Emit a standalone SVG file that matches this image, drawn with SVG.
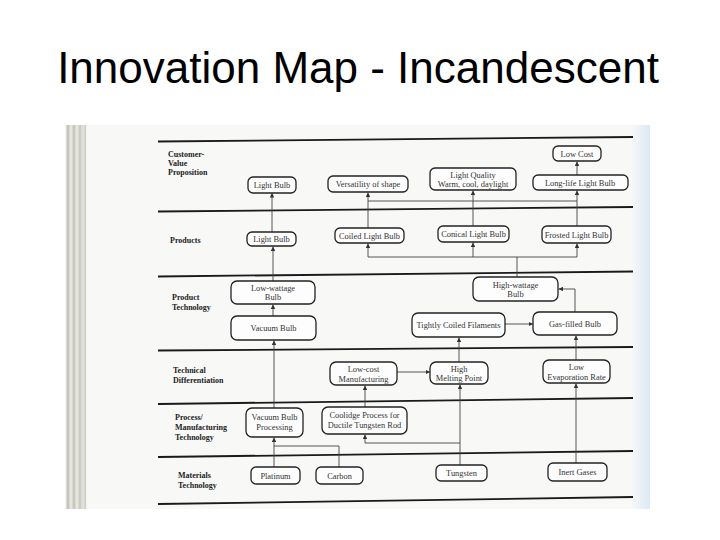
<svg xmlns="http://www.w3.org/2000/svg" width="720" height="540" viewBox="0 0 720 540">
<defs>
<marker id="ah" viewBox="0 0 6 6" refX="6" refY="3" markerWidth="4.5" markerHeight="4.5" orient="auto" markerUnits="userSpaceOnUse"><path d="M0,0 L6,3 L0,6 z" fill="#333"/></marker>
<linearGradient id="blue" x1="0" y1="0" x2="1" y2="0"><stop offset="0" stop-color="#f6f8fa"/><stop offset="1" stop-color="#dde9f3"/></linearGradient>
</defs>
<style>
.title{font-family:"Liberation Sans",Arial,sans-serif;font-size:44px;fill:#000}
.sec{font-family:"Liberation Serif","Times New Roman",serif;font-size:8px;font-weight:bold;fill:#222}
.nt{font-family:"Liberation Serif","Times New Roman",serif;font-size:8.4px;fill:#333;text-anchor:middle}
.box{fill:#fdfdfd;stroke:#222;stroke-width:1.3}
.div{stroke:#1a1a1a;stroke-width:1.8;fill:none}
.con{stroke:#444;stroke-width:0.9;fill:none}
.arr{marker-end:url(#ah)}
</style>
<rect width="720" height="540" fill="#fff"/>
<text class="title" x="358" y="83" text-anchor="middle">Innovation Map - Incandescent</text>
<g id="scan">
<rect x="65" y="125" width="585" height="384" fill="#f8f8f7"/>
<rect x="632" y="125" width="18" height="384" fill="url(#blue)"/>
<rect x="66" y="125" width="20" height="384" fill="#d9d9d2"/>
<g stroke-width="1.2">
<line x1="68" y1="125" x2="68" y2="509" stroke="#b8b8b0"/>
<line x1="71" y1="125" x2="71" y2="509" stroke="#eeeee8"/>
<line x1="74" y1="125" x2="74" y2="509" stroke="#bdbdb5"/>
<line x1="77" y1="125" x2="77" y2="509" stroke="#f0f0ea"/>
<line x1="80" y1="125" x2="80" y2="509" stroke="#c4c4bc"/>
<line x1="83" y1="125" x2="83" y2="509" stroke="#e6e6e0"/>
<line x1="85.5" y1="125" x2="85.5" y2="509" stroke="#cfcfc8"/>
</g>
</g>
<g id="dividers">
<path class="div" d="M158,141.5 L633,137"/>
<path class="div" d="M158,211.5 L633,207"/>
<path class="div" d="M158,276.5 L633,271.5"/>
<path class="div" d="M158,350.5 L633,347"/>
<path class="div" d="M158,404 L633,398"/>
<path class="div" d="M158,457 L633,451"/>
<path class="div" d="M158,504 L633,497"/>
</g>
<g id="sections">
<text class="sec" x="168" y="157">Customer-</text>
<text class="sec" x="168" y="166">Value</text>
<text class="sec" x="168" y="175">Proposition</text>
<text class="sec" x="170" y="243">Products</text>
<text class="sec" x="172" y="300">Product</text>
<text class="sec" x="172" y="310">Technology</text>
<text class="sec" x="173" y="373">Technical</text>
<text class="sec" x="173" y="383">Differentiation</text>
<text class="sec" x="175" y="420">Process/</text>
<text class="sec" x="175" y="430">Manufacturing</text>
<text class="sec" x="175" y="440">Technology</text>
<text class="sec" x="178" y="478">Materials</text>
<text class="sec" x="178" y="488">Technology</text>
</g>
<g id="connectors">
<path class="con arr" d="M272,232 V193"/>
<path class="con arr" d="M273,281 V246.5"/>
<path class="con arr" d="M273,316 V304.5"/>
<path class="con arr" d="M274,408 V340.5"/>
<path class="con arr" d="M274,467 V437.5"/>
<path class="con" d="M339,467 V446 H274"/>
<path class="con arr" d="M460,465 V384.5"/>
<path class="con arr" d="M460,443 H365 V434.5"/>
<path class="con arr" d="M365,407 V385.5"/>
<path class="con arr" d="M397,372 H430"/>
<path class="con arr" d="M459,362 V337.5"/>
<path class="con arr" d="M505,324 H533"/>
<path class="con arr" d="M575,312 V289 H558.5"/>
<path class="con arr" d="M576,360 V335.5"/>
<path class="con arr" d="M576,463 V383.5"/>
<path class="con" d="M517,277 V257"/>
<path class="con" d="M368,257 H577"/>
<path class="con arr" d="M368,257 V243.5"/>
<path class="con arr" d="M473,257 V242.5"/>
<path class="con arr" d="M577,257 V243.5"/>
<path class="con arr" d="M368,228 V192.5"/>
<path class="con arr" d="M473,226 V190.5"/>
<path class="con arr" d="M577,226 V190.5"/>
<path class="con arr" d="M577,175 V161.5"/>
<path class="con" d="M368,201 H577"/>
</g>
<g id="n-cvp-light"><rect class="box" x="248" y="177" width="48" height="16" rx="5"/><text class="nt" x="272" y="188">Light Bulb</text></g>
<g id="n-versatility"><rect class="box" x="328" y="176" width="80" height="16" rx="5"/><text class="nt" x="368" y="187">Versatility of shape</text></g>
<g id="n-light-quality"><rect class="box" x="430" y="168" width="86" height="22" rx="5"/><text class="nt" x="473" y="177.5">Light Quality</text><text class="nt" x="473" y="186.5">Warm, cool, daylight</text></g>
<g id="n-low-cost"><rect class="box" x="553" y="146" width="48" height="15" rx="5"/><text class="nt" x="577" y="156.5">Low Cost</text></g>
<g id="n-long-life"><rect class="box" x="533" y="175" width="95" height="15" rx="5"/><text class="nt" x="580" y="185.5">Long-life Light Bulb</text></g>
<g id="n-prod-light"><rect class="box" x="247" y="232" width="49" height="14" rx="5"/><text class="nt" x="271.5" y="242">Light Bulb</text></g>
<g id="n-coiled"><rect class="box" x="335" y="228" width="69" height="15" rx="5"/><text class="nt" x="369.5" y="238.5">Coiled Light Bulb</text></g>
<g id="n-conical"><rect class="box" x="438" y="226" width="71" height="16" rx="5"/><text class="nt" x="473.5" y="237">Conical Light Bulb</text></g>
<g id="n-frosted"><rect class="box" x="542" y="226" width="69" height="17" rx="5"/><text class="nt" x="576.5" y="237.5">Frosted Light Bulb</text></g>
<g id="n-low-wattage"><rect class="box" x="231" y="281" width="84" height="23" rx="6"/><text class="nt" x="273" y="291">Low-wattage</text><text class="nt" x="273" y="300">Bulb</text></g>
<g id="n-vacuum"><rect class="box" x="231" y="316" width="85" height="24" rx="6"/><text class="nt" x="273.5" y="331">Vacuum Bulb</text></g>
<g id="n-high-wattage"><rect class="box" x="473" y="277" width="85" height="24" rx="6"/><text class="nt" x="515.5" y="287.5">High-wattage</text><text class="nt" x="515.5" y="297">Bulb</text></g>
<g id="n-tcf"><rect class="box" x="412" y="313" width="93" height="24" rx="6"/><text class="nt" x="458.5" y="328">Tightly Coiled Filaments</text></g>
<g id="n-gas"><rect class="box" x="533" y="312" width="84" height="23" rx="6"/><text class="nt" x="575" y="326.5">Gas-filled Bulb</text></g>
<g id="n-lowcost-mfg"><rect class="box" x="330" y="362" width="67" height="23" rx="6"/><text class="nt" x="363.5" y="372">Low-cost</text><text class="nt" x="363.5" y="381.5">Manufacturing</text></g>
<g id="n-high-mp"><rect class="box" x="430" y="362" width="58" height="22" rx="6"/><text class="nt" x="459" y="371.5">High</text><text class="nt" x="459" y="381">Melting Point</text></g>
<g id="n-low-evap"><rect class="box" x="543" y="360" width="67" height="23" rx="6"/><text class="nt" x="576.5" y="370">Low</text><text class="nt" x="576.5" y="379.5">Evaporation Rate</text></g>
<g id="n-vbp"><rect class="box" x="246" y="408" width="57" height="29" rx="6"/><text class="nt" x="274.5" y="420">Vacuum Bulb</text><text class="nt" x="274.5" y="430">Processing</text></g>
<g id="n-coolidge"><rect class="box" x="322" y="407" width="85" height="27" rx="6"/><text class="nt" x="364.5" y="418">Coolidge Process for</text><text class="nt" x="364.5" y="428">Ductile Tungsten Rod</text></g>
<g id="n-platinum"><rect class="box" x="251" y="467" width="49" height="17" rx="5"/><text class="nt" x="275.5" y="478.5">Platinum</text></g>
<g id="n-carbon"><rect class="box" x="316" y="467" width="47" height="17" rx="5"/><text class="nt" x="339.5" y="478.5">Carbon</text></g>
<g id="n-tungsten"><rect class="box" x="436" y="465" width="51" height="16" rx="5"/><text class="nt" x="461.5" y="476">Tungsten</text></g>
<g id="n-inert"><rect class="box" x="548" y="463" width="59" height="18" rx="5"/><text class="nt" x="577.5" y="475">Inert Gases</text></g>
</svg>
